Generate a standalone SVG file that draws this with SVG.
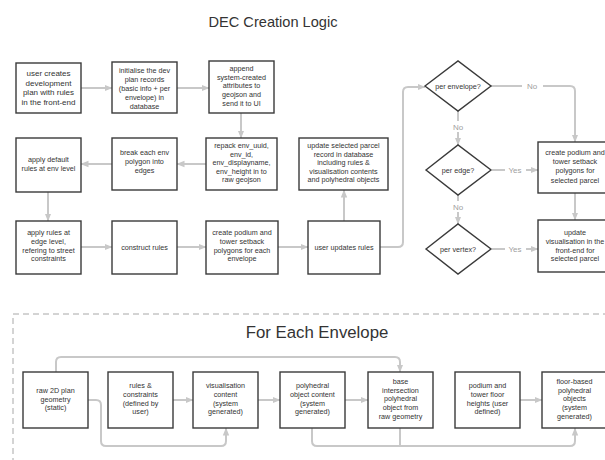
<svg xmlns="http://www.w3.org/2000/svg" width="605" height="460" viewBox="0 0 605 460">
<style>
.b{fill:#fff;stroke:#3a3a3a;stroke-width:1.4}
.t{font-family:"Liberation Sans",Arial,sans-serif;font-size:7.2px;fill:#333;text-anchor:middle}
.t8{font-size:8px}
.c{fill:none;stroke:#c8c8c8;stroke-width:2}
.a{marker-end:url(#ah)}
.l{font-family:"Liberation Sans",Arial,sans-serif;font-size:8px;fill:#a0a0a0;text-anchor:middle}
.h{font-family:"Liberation Sans",Arial,sans-serif;fill:#333;text-anchor:middle}
</style>
<defs>
<marker id="ah" markerUnits="userSpaceOnUse" markerWidth="8" markerHeight="8" viewBox="0 0 8 8" refX="7.5" refY="4" orient="auto">
<path d="M0,0.8 L8,4 L0,7.2 Z" fill="#c8c8c8"/>
</marker>
</defs>
<rect width="605" height="460" fill="#fff"/>
<text class="h" x="273" y="27" font-size="14.6">DEC Creation Logic</text>

<g id="connectors">
<path class="c a" d="M81,88 H112"/>
<path class="c a" d="M177,88 H209"/>
<path class="c a" d="M241,113 V138"/>
<path class="c a" d="M206,164 H177"/>
<path class="c a" d="M112,164 H81"/>
<path class="c a" d="M48,192 V221"/>
<path class="c a" d="M81,247 H112"/>
<path class="c a" d="M177,247 H206"/>
<path class="c a" d="M278,247 H308"/>
<path class="c a" d="M344,221 V190"/>
<path class="c a" d="M380,247 H398 Q403,247 403,242 V92 Q403,87 408,87 H425"/>
<path class="c a" d="M491,86 H570 Q575,86 575,91 V142"/>
<path class="c a" d="M458,111 V145"/>
<path class="c a" d="M458,195 V224"/>
<path class="c a" d="M492,170 H538"/>
<path class="c a" d="M492,249 H538"/>
<path class="c a" d="M575,193 V220"/>
<rect x="522" y="80" width="21" height="11" fill="#fff"/>
<text class="l" x="532" y="89">No</text>
<rect x="450" y="121" width="16" height="11" fill="#fff"/>
<text class="l" x="458" y="130">No</text>
<rect x="450" y="201" width="16" height="11" fill="#fff"/>
<text class="l" x="458" y="210">No</text>
<rect x="505" y="164" width="21" height="11" fill="#fff"/>
<text class="l" x="515" y="173">Yes</text>
<rect x="505" y="243" width="21" height="11" fill="#fff"/>
<text class="l" x="515" y="252">Yes</text>

<path class="c a" d="M88,400 H96 Q101,400 101,405 V441 Q101,446 106,446 H221 Q226,446 226,441 V428"/>
<path class="c a" d="M173,400 H193"/>
<path class="c a" d="M258,400 H280"/>
<path class="c a" d="M345,400 H368"/>
<path class="c a" d="M520,400 H542"/>
<path class="c a" d="M56,372 V362 Q56,357 61,357 H395 Q400,357 400,362 V372"/>
<path class="c a" d="M312,428 V441 Q312,446 317,446 H570 Q575,446 575,441 V428"/>
<path class="c" d="M400,428 V446"/>
</g>

<g id="n1"><rect class="b" x="16" y="63" width="65" height="50"/>
<text class="t t8" x="48.5" y="76">user creates<tspan x="48.5" dy="9.7">development</tspan><tspan x="48.5" dy="9.7">plan with rules</tspan><tspan x="48.5" dy="9.7">in the front-end</tspan></text></g>
<g id="n2"><rect class="b" x="112" y="62" width="65" height="51"/>
<text class="t" x="144.5" y="73">initialise the dev<tspan x="144.5" dy="9">plan records</tspan><tspan x="144.5" dy="9">(basic info + per</tspan><tspan x="144.5" dy="9">envelope) in</tspan><tspan x="144.5" dy="9">database</tspan></text></g>
<g id="n3"><rect class="b" x="209" y="61" width="65" height="52"/>
<text class="t" x="241.5" y="71">append<tspan x="241.5" dy="8.7">system-created</tspan><tspan x="241.5" dy="8.7">attributes to</tspan><tspan x="241.5" dy="8.7">geojson and</tspan><tspan x="241.5" dy="8.7">send it to UI</tspan></text></g>

<g id="n4"><rect class="b" x="16" y="138" width="65" height="54"/>
<text class="t" x="48.5" y="162">apply default<tspan x="48.5" dy="9">rules at env level</tspan></text></g>
<g id="n5"><rect class="b" x="112" y="138" width="65" height="52"/>
<text class="t" x="144.5" y="155">break each env<tspan x="144.5" dy="9">polygon into</tspan><tspan x="144.5" dy="9">edges</tspan></text></g>
<g id="n6"><rect class="b" x="206" y="138" width="71" height="52"/>
<text class="t" x="241.5" y="148">repack env_uuid,<tspan x="241.5" dy="8.6">env_id,</tspan><tspan x="241.5" dy="8.6">env_displayname,</tspan><tspan x="241.5" dy="8.6">env_height in to</tspan><tspan x="241.5" dy="8.6">raw geojson</tspan></text></g>
<g id="n7"><rect class="b" x="299" y="138" width="89" height="52"/>
<text class="t" x="343.5" y="148">update selected parcel<tspan x="343.5" dy="8.6">record in database</tspan><tspan x="343.5" dy="8.6">including rules &amp;</tspan><tspan x="343.5" dy="8.6">visualisation contents</tspan><tspan x="343.5" dy="8.6">and polyhedral objects</tspan></text></g>

<g id="n8"><rect class="b" x="16" y="221" width="65" height="53"/>
<text class="t" x="48.5" y="235">apply rules at<tspan x="48.5" dy="8.8">edge level,</tspan><tspan x="48.5" dy="8.8">refering to street</tspan><tspan x="48.5" dy="8.8">constraints</tspan></text></g>
<g id="n9"><rect class="b" x="112" y="221" width="65" height="53"/>
<text class="t" x="144.5" y="250">construct rules</text></g>
<g id="n10"><rect class="b" x="206" y="221" width="72" height="53"/>
<text class="t" x="242" y="235">create podium and<tspan x="242" dy="8.8">tower setback</tspan><tspan x="242" dy="8.8">polygons for each</tspan><tspan x="242" dy="8.8">envelope</tspan></text></g>
<g id="n11"><rect class="b" x="308" y="221" width="72" height="53"/>
<text class="t" x="344" y="250">user updates rules</text></g>

<g id="d1"><polygon class="b" points="425,86 458,61 491,86 458,111"/>
<text class="t" x="458" y="88.5">per envelope?</text></g>
<g id="d2"><polygon class="b" points="426,170 458,145 491,170 458,195"/>
<text class="t" x="458" y="172.5">per edge?</text></g>
<g id="d3"><polygon class="b" points="426,249 458,224 491,249 458,274"/>
<text class="t" x="458" y="251.5">per vertex?</text></g>

<g id="n12"><rect class="b" x="538" y="142" width="75" height="51"/>
<text class="t" x="575" y="155">create podium and<tspan x="575" dy="9.2">tower setback</tspan><tspan x="575" dy="9.2">polygons for</tspan><tspan x="575" dy="9.2">selected parcel</tspan></text></g>
<g id="n13"><rect class="b" x="538" y="220" width="75" height="52"/>
<text class="t" x="575" y="235">update<tspan x="575" dy="8.8">visualisation in the</tspan><tspan x="575" dy="8.8">front-end for</tspan><tspan x="575" dy="8.8">selected parcel</tspan></text></g>

<g id="envelope-frame">
<rect x="13" y="314" width="620" height="170" fill="none" stroke="#a8a8a8" stroke-width="1" stroke-dasharray="6,4"/>
<text class="h" x="317" y="338" font-size="16.8">For Each Envelope</text>
</g>

<g id="e1"><rect class="b" x="23" y="372" width="65" height="56"/>
<text class="t" x="55.5" y="393">raw 2D plan<tspan x="55.5" dy="8.7">geometry</tspan><tspan x="55.5" dy="8.7">(static)</tspan></text></g>
<g id="e2"><rect class="b" x="108" y="372" width="65" height="56"/>
<text class="t" x="140.5" y="388">rules &amp;<tspan x="140.5" dy="8.8">constraints</tspan><tspan x="140.5" dy="8.8">(defined by</tspan><tspan x="140.5" dy="8.8">user)</tspan></text></g>
<g id="e3"><rect class="b" x="193" y="372" width="65" height="56"/>
<text class="t" x="225.5" y="388">visualisation<tspan x="225.5" dy="8.8">content</tspan><tspan x="225.5" dy="8.8">(system</tspan><tspan x="225.5" dy="8.8">generated)</tspan></text></g>
<g id="e4"><rect class="b" x="280" y="372" width="65" height="56"/>
<text class="t" x="312.5" y="388">polyhedral<tspan x="312.5" dy="8.8">object content</tspan><tspan x="312.5" dy="8.8">(system</tspan><tspan x="312.5" dy="8.8">generated)</tspan></text></g>
<g id="e5"><rect class="b" x="368" y="372" width="65" height="56"/>
<text class="t" x="400.5" y="384">base<tspan x="400.5" dy="8.7">intersection</tspan><tspan x="400.5" dy="8.7">polyhedral</tspan><tspan x="400.5" dy="8.7">object from</tspan><tspan x="400.5" dy="8.7">raw geometry</tspan></text></g>
<g id="e6"><rect class="b" x="455" y="372" width="65" height="56"/>
<text class="t" x="487.5" y="388">podium and<tspan x="487.5" dy="8.8">tower floor</tspan><tspan x="487.5" dy="8.8">heights (user</tspan><tspan x="487.5" dy="8.8">defined)</tspan></text></g>
<g id="e7"><rect class="b" x="542" y="372" width="65" height="56"/>
<text class="t" x="574.5" y="384">floor-based<tspan x="574.5" dy="8.7">polyhedral</tspan><tspan x="574.5" dy="8.7">objects</tspan><tspan x="574.5" dy="8.7">(system</tspan><tspan x="574.5" dy="8.7">generated)</tspan></text></g>
</svg>
